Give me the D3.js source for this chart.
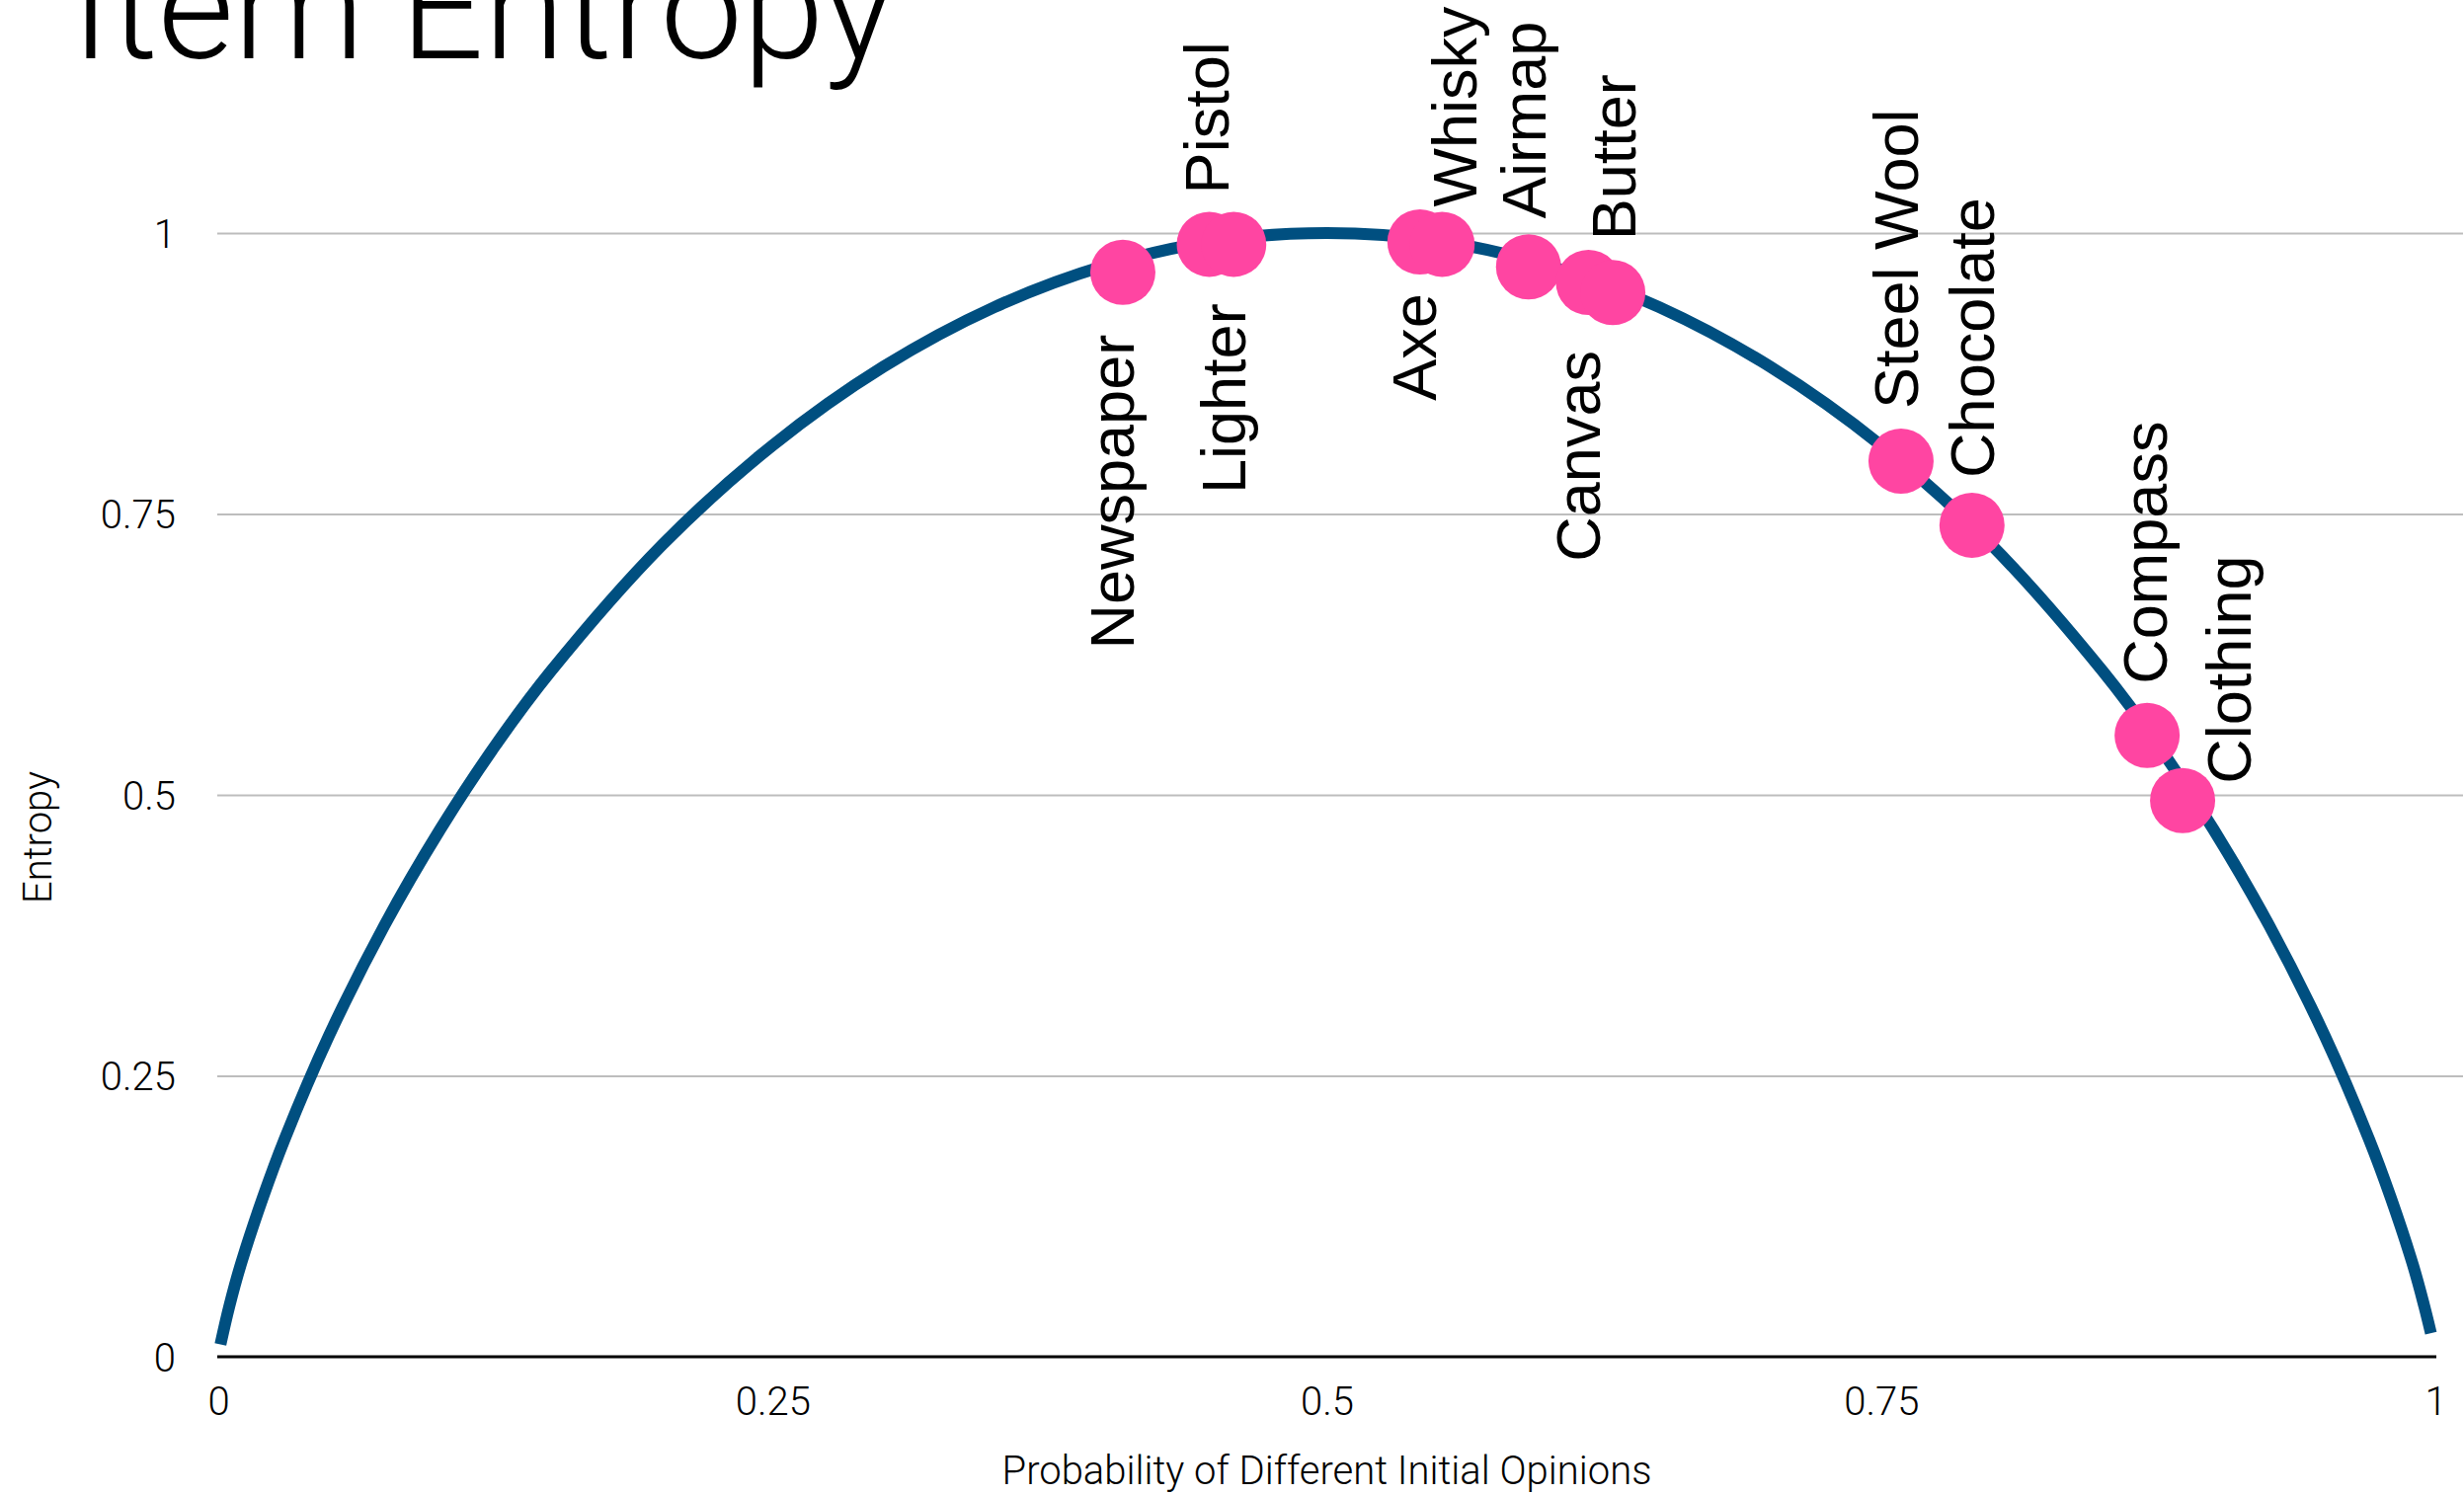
<!DOCTYPE html>
<html>
<head>
<meta charset="utf-8">
<script src="https://cdn.jsdelivr.net/npm/d3@7"></script>
<style>
  body { margin: 0; background: #fff; }
  svg { display: block; }
</style>
</head>
<body>
<svg class="chart" width="2495" height="1514"></svg>
<script>
// items placed on the entropy curve
let items = ["Newspaper", "Lighter", "Pistol", "Axe", "Whisky", "Airmap",
  "Canvas", "Butter", "Steel Wool", "Chocolate", "Compass", "Clothing"];
let itemProb = [0.408, 0.447, 0.458, 0.542, 0.552, 0.591, 0.618, 0.629, 0.759, 0.791, 0.870, 0.886];
let itemEntropy = [0.965, 0.990, 0.990, 0.992, 0.990, 0.970, 0.956, 0.947, 0.797, 0.740, 0.553, 0.495];

// entropy curve
let curveX = [0.001, 0.005, 0.01, 0.02, 0.03, 0.05, 0.075, 0.1, 0.125, 0.15, 0.2, 0.25, 0.3, 0.35, 0.4, 0.45, 0.5,
  0.55, 0.6, 0.65, 0.7, 0.75, 0.8, 0.85, 0.875, 0.9, 0.925, 0.95, 0.97, 0.98, 0.99, 0.995, 0.998];
let curveY = [0.011, 0.045, 0.081, 0.141, 0.194, 0.286, 0.384, 0.469, 0.544, 0.610, 0.722, 0.811, 0.881, 0.934, 0.971, 0.993, 1.0,
  0.993, 0.971, 0.934, 0.881, 0.811, 0.722, 0.610, 0.544, 0.469, 0.384, 0.286, 0.194, 0.141, 0.081, 0.045, 0.021];

let xTicks = [0, 0.25, 0.5, 0.75, 1];
let yTicks = [0, 0.25, 0.5, 0.75, 1];
let xTickLabels = ["0", "0.25", "0.5", "0.75", "1"];
let yTickLabels = ["0", "0.25", "0.5", "0.75", "1"];

// label placement (above / below the dot, pixel nudges)
let labelSide = ["below", "below", "above", "below", "above", "above",
  "below", "above", "above", "above", "above", "above"];
let labelDx = [11, 36, -5, 16, 35, 17, 12, 23, 17, 22, 20, 69];
let labelDy = [63, 60, -51, 52, -38, -49, 69, -53, -53, -48, -52, -17];

function drawEntropy(svgClass) {
  let svg = d3.select(svgClass);

  let left = 221, right = 2466;
  let top = 236, bottom = 1374;
  let lightFont = "'Helvetica Neue', Roboto, 'Liberation Sans', sans-serif";
  let labelFont = "'Helvetica Neue', 'Liberation Sans', Arial, sans-serif";

  let xScale = d3.scaleLinear().domain([0, 1]).range([left, right]);
  let yScale = d3.scaleLinear().domain([0, 1]).range([bottom, top]);

  // title (runs off the top edge like the original slide)
  svg.append("text")
    .attr("x", 72)
    .attr("y", 59)
    .attr("font-family", lightFont)
    .attr("font-weight", 300)
    .attr("font-size", 149)
    .attr("fill", "#000")
    .text("Item Entropy");

  // grid lines
  svg.append("g")
    .attr("transform", "translate(" + (left - 1) + ",0)")
    .call(d3.axisRight(yScale).tickValues(yTicks.slice(1)).tickSize(2495 - left).tickFormat(""))
    .call(g => g.select(".domain").remove())
    .call(g => g.selectAll("line").attr("stroke", "#bdbdbd").attr("stroke-width", 2));

  // y labels
  svg.append("g")
    .attr("transform", "translate(" + (left - 40) + ",0)")
    .call(d3.axisLeft(yScale).tickValues(yTicks).tickSize(0).tickFormat((d, i) => yTickLabels[i]))
    .call(g => g.select(".domain").remove())
    .selectAll("text")
    .attr("font-family", lightFont)
    .attr("font-weight", 300)
    .attr("font-size", 40)
    .attr("fill", "#000")
    .attr("dy", "0.36em");

  // x axis
  let xAxis = svg.append("g")
    .attr("transform", "translate(0," + bottom + ")")
    .call(d3.axisBottom(xScale).tickValues(xTicks).tickSize(0).tickPadding(31).tickFormat((d, i) => xTickLabels[i]));
  xAxis.select(".domain").attr("stroke", "#000").attr("stroke-width", 3)
    .attr("d", "M" + (left - 1) + ",0H" + (right + 1));
  xAxis.selectAll("text")
    .attr("font-family", lightFont)
    .attr("font-weight", 300)
    .attr("font-size", 40)
    .attr("fill", "#000");

  // axis titles
  svg.append("text")
    .attr("x", (left + right) / 2)
    .attr("y", 1503)
    .attr("text-anchor", "middle")
    .attr("font-family", lightFont)
    .attr("font-weight", 300)
    .attr("font-size", 40)
    .text("Probability of Different Initial Opinions");

  svg.append("text")
    .attr("transform", "translate(52,848)rotate(-90)")
    .attr("text-anchor", "middle")
    .attr("font-family", lightFont)
    .attr("font-weight", 300)
    .attr("font-size", 40)
    .text("Entropy");

  // curve
  let curveData = curveX.map((x, i) => ({ x: x, y: curveY[i] }));
  let line = d3.line()
    .x(d => xScale(d.x))
    .y(d => yScale(d.y))
    .curve(d3.curveCatmullRom.alpha(0.5));

  svg.append("path")
    .datum(curveData)
    .attr("d", line)
    .attr("fill", "none")
    .attr("stroke", "#004f80")
    .attr("stroke-width", 12);

  // dots
  let pts = items.map((name, i) => ({
    name: name, x: itemProb[i], y: itemEntropy[i],
    side: labelSide[i], dx: labelDx[i], dy: labelDy[i]
  }));

  svg.selectAll(".dot")
    .data(pts)
    .enter()
    .append("circle")
    .attr("class", "dot")
    .attr("cx", d => xScale(d.x))
    .attr("cy", d => yScale(d.y))
    .attr("r", 33)
    .attr("fill", "#ff45a2");

  // labels
  svg.selectAll(".lbl")
    .data(pts)
    .enter()
    .append("text")
    .attr("class", "lbl")
    .attr("transform", d => "translate(" + (xScale(d.x) + d.dx) + "," + (yScale(d.y) + d.dy) + ")rotate(-90)")
    .attr("text-anchor", d => d.side == "above" ? "start" : "end")
    .attr("font-family", labelFont)
    .attr("font-size", 63)
    .attr("fill", "#000")
    .text(d => d.name);
}

drawEntropy(".chart");
</script>
</body>
</html>
